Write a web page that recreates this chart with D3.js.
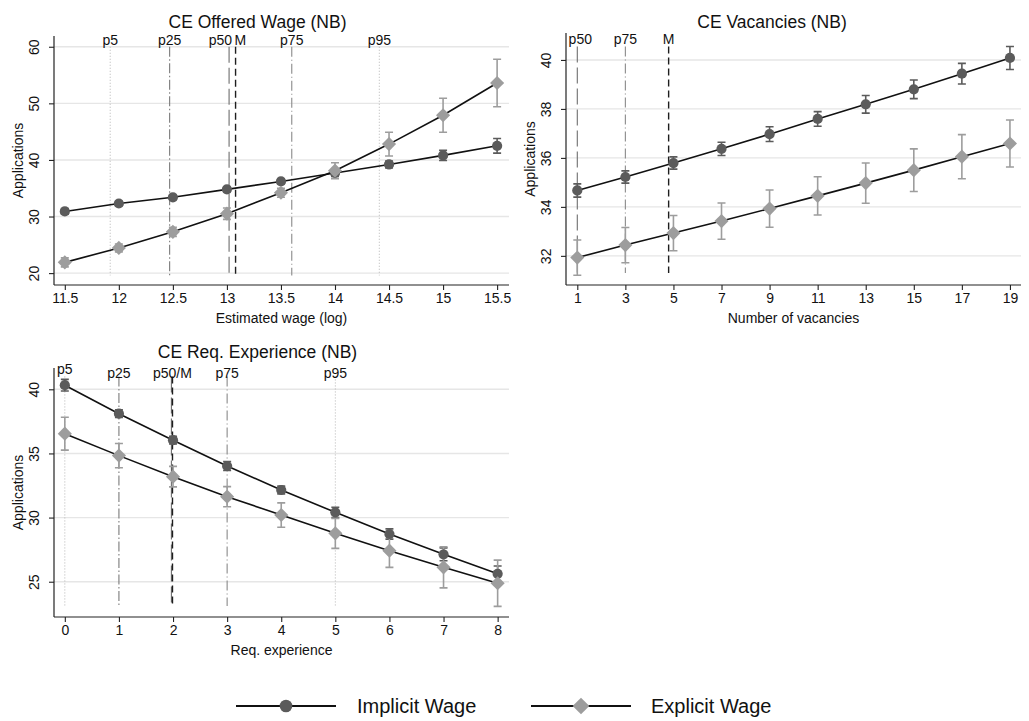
<!DOCTYPE html>
<html>
<head>
<meta charset="utf-8">
<script src="https://cdn.jsdelivr.net/npm/d3@7"></script>
<style>
  html, body { margin: 0; padding: 0; background: #fff; }
  svg { display: block; font-family: "Liberation Sans", Arial, sans-serif; }
</style>
</head>
<body>
<svg id="chart" width="1029" height="721"></svg>
<script>
// ---- Offered wage panel ----
const wageX = [11.5, 12, 12.5, 13, 13.5, 14, 14.5, 15, 15.5];
const wageImplicit = [30.9, 32.3, 33.4, 34.8, 36.2, 37.7, 39.2, 40.8, 42.5];
const wageImplicitCI = [0.5, 0.4, 0.4, 0.4, 0.4, 0.6, 0.6, 0.9, 1.3];
const wageExplicit = [21.9, 24.45, 27.3, 30.5, 34.2, 38.1, 42.8, 47.9, 53.6];
const wageExplicitCI = [0.8, 0.7, 0.8, 1.0, 0.8, 1.4, 2.1, 3.0, 4.2];
const wageYTicks = [20, 30, 40, 50, 60];
const wageRefNames = ["p5", "p25", "p50", "M", "p75", "p95"];
const wageRefValues = [11.92, 12.47, 13.02, 13.08, 13.6, 14.41];
const wageRefLabels = ["p5", "p25", "p50", "M", "p75", "p95"];

// ---- Vacancies panel ----
const vacX = [1, 3, 5, 7, 9, 11, 13, 15, 17, 19];
const vacImplicit = [34.67, 35.22, 35.79, 36.37, 36.97, 37.59, 38.19, 38.8, 39.44, 40.08];
const vacImplicitCI = [0.27, 0.25, 0.25, 0.27, 0.3, 0.3, 0.36, 0.38, 0.42, 0.47];
const vacExplicit = [31.93, 32.44, 32.93, 33.42, 33.93, 34.45, 34.97, 35.5, 36.05, 36.59];
const vacExplicitCI = [0.72, 0.72, 0.72, 0.74, 0.76, 0.78, 0.82, 0.87, 0.9, 0.96];
const vacYTicks = [32, 34, 36, 38, 40];
const vacRefNames = ["p50", "p75", "M"];
const vacRefValues = [1, 3, 4.8];
const vacRefLabels = ["p50", "p75", "M"];

// ---- Required experience panel ----
const expX = [0, 1, 2, 3, 4, 5, 6, 7, 8];
const expImplicit = [40.32, 38.1, 36.03, 34.02, 32.15, 30.41, 28.72, 27.14, 25.62];
const expImplicitCI = [0.45, 0.3, 0.3, 0.35, 0.3, 0.4, 0.4, 0.5, 0.6];
const expExplicit = [36.54, 34.83, 33.19, 31.63, 30.2, 28.77, 27.42, 26.12, 24.88];
const expExplicitCI = [1.28, 0.95, 0.8, 0.78, 0.95, 1.17, 1.3, 1.6, 1.8];
const expYTicks = [25, 30, 35, 40];
const expRefNames = ["p5", "p25", "p50", "M", "p75", "p95"];
const expRefValues = [0, 1, 1.97, 1.99, 3, 5];
const expRefLabels = ["p5", "p25", "p50/M", "", "p75", "p95"];

const seriesNames = ["Implicit Wage", "Explicit Wage"];

// ---- styling ----
const darkGrey = "#5b5b5b";
const lightGrey = "#9d9d9d";
const refStyle = {
  p5:  { stroke: "#b4b4b4", dash: "1,2",        width: 1 },
  p95: { stroke: "#b4b4b4", dash: "1,2",        width: 1 },
  p25: { stroke: "#7a7a7a", dash: "10,2.5,1.5,2.5", width: 1.1 },
  p75: { stroke: "#8a8a8a", dash: "10,3,1,3",   width: 1.1 },
  p50: { stroke: "#6e6e6e", dash: "16,5",       width: 1.1 },
  M:   { stroke: "#1e1e1e", dash: "7,4",        width: 1.4 }
};

// marker shapes: filled circle and a square turned 45 degrees
const markerPath = (shape, size) => shape === "circle"
  ? d3.symbol().type(d3.symbolCircle).size(size)()
  : d3.symbol().type(d3.symbolSquare).size(size)();
const markerRotate = shape => shape === "circle" ? "" : " rotate(45)";

const svg = d3.select("#chart");

const panels = [
  {
    title: "CE Offered Wage (NB)", xTitle: "Estimated wage (log)",
    box: { left: 0, width: 515 },
    xDomain: [11.4, 15.61], xRange: [54, 509],
    yDomain: [17.9, 61.9], yRange: [285, 36],
    titleY: 28, labelY: 45, refSpan: [19.6, 60],
    x: wageX, imp: wageImplicit, impCI: wageImplicitCI, exp: wageExplicit, expCI: wageExplicitCI,
    xTicks: wageX, xFmt: d => String(d), yTicks: wageYTicks,
    refs: wageRefNames.map((n, i) => ({ name: n, value: wageRefValues[i], label: wageRefLabels[i],
      anchor: n === "p50" ? "end" : (n === "M" ? "start" : "middle"),
      dx: n === "p50" ? 3 : (n === "M" ? -1 : 0), dy: 0 }))
  },
  {
    title: "CE Vacancies (NB)", xTitle: "Number of vacancies",
    box: { left: 515, width: 514 },
    xDomain: [0.53, 19.46], xRange: [566, 1021],
    yDomain: [30.81, 41.1], yRange: [285, 33],
    titleY: 28, labelY: 44, refSpan: [31.3, 40.55],
    x: vacX, imp: vacImplicit, impCI: vacImplicitCI, exp: vacExplicit, expCI: vacExplicitCI,
    xTicks: vacX, xFmt: d => String(d), yTicks: vacYTicks,
    refs: vacRefNames.map((n, i) => ({ name: n, value: vacRefValues[i], label: vacRefLabels[i],
      anchor: "middle", dx: n === "p50" ? 3 : 0, dy: 0 }))
  },
  {
    title: "CE Req. Experience (NB)", xTitle: "Req. experience",
    box: { left: 0, width: 515 },
    xDomain: [-0.2, 8.21], xRange: [54, 509],
    yDomain: [22.25, 41.66], yRange: [617, 368],
    titleY: 358, labelY: 378, refSpan: [23.1, 41.0],
    x: expX, imp: expImplicit, impCI: expImplicitCI, exp: expExplicit, expCI: expExplicitCI,
    xTicks: expX, xFmt: d => String(d), yTicks: expYTicks,
    refs: expRefNames.map((n, i) => ({ name: n, value: expRefValues[i], label: expRefLabels[i],
      anchor: "middle", dx: n === "p50" ? 1 : 0, dy: n === "p5" ? -4 : 0 }))
  }
];

function drawPanel(p) {
  const g = svg.append("g");
  const x = d3.scaleLinear().domain(p.xDomain).range(p.xRange);
  const y = d3.scaleLinear().domain(p.yDomain).range(p.yRange);
  const [x0, x1] = p.xRange;
  const [yb, yt] = p.yRange;

  // panel title
  g.append("text")
    .attr("x", p.box.left + p.box.width / 2).attr("y", p.titleY)
    .attr("text-anchor", "middle").attr("font-size", 17.5).attr("fill", "#111")
    .text(p.title);

  // horizontal grid
  g.append("g").selectAll("line").data(p.yTicks).join("line")
    .attr("x1", x0).attr("x2", x1)
    .attr("y1", d => y(d)).attr("y2", d => y(d))
    .attr("stroke", "#e6e6e6").attr("stroke-width", 1.4);

  // reference lines for percentiles and mean
  const refG = g.append("g");
  refG.selectAll("line").data(p.refs).join("line")
    .attr("x1", d => x(d.value)).attr("x2", d => x(d.value))
    .attr("y1", y(p.refSpan[1])).attr("y2", y(p.refSpan[0]))
    .attr("stroke", d => refStyle[d.name].stroke)
    .attr("stroke-width", d => refStyle[d.name].width)
    .attr("stroke-dasharray", d => refStyle[d.name].dash);
  refG.selectAll("text").data(p.refs.filter(d => d.label)).join("text")
    .attr("x", d => x(d.value) + d.dx).attr("y", p.labelY)
    .attr("dy", d => d.dy)
    .attr("text-anchor", d => d.anchor)
    .attr("font-size", 14).attr("fill", "#111")
    .text(d => d.label);

  // y axis
  const yAxis = d3.axisLeft(y).tickValues(p.yTicks).tickSize(5).tickSizeOuter(0).tickPadding(4);
  const ya = g.append("g").attr("transform", `translate(${x0},0)`).call(yAxis);
  ya.select(".domain").attr("d", `M0,${yt}V${yb}`).attr("stroke", "#222").attr("stroke-width", 1.2);
  ya.selectAll(".tick line").attr("stroke", "#222").attr("stroke-width", 1.1);
  ya.selectAll(".tick text")
    .attr("font-size", 14).attr("fill", "#111").attr("font-family", null)
    .attr("text-anchor", "middle").attr("dy", 0).attr("x", 0)
    .attr("transform", "translate(-15,0) rotate(-90)");

  g.append("text")
    .attr("transform", `translate(${x0 - 31},${(yb + yt) / 2}) rotate(-90)`)
    .attr("text-anchor", "middle").attr("font-size", 14).attr("fill", "#111")
    .text("Applications");

  // x axis
  const xAxis = d3.axisBottom(x).tickValues(p.xTicks).tickFormat(p.xFmt).tickSize(5).tickSizeOuter(0).tickPadding(3);
  const xa = g.append("g").attr("transform", `translate(0,${yb})`).call(xAxis);
  xa.select(".domain").attr("d", `M${x0},0H${x1}`).attr("stroke", "#222").attr("stroke-width", 1.2);
  xa.selectAll(".tick line").attr("stroke", "#222").attr("stroke-width", 1.1);
  xa.selectAll(".tick text").attr("font-size", 14).attr("fill", "#111").attr("font-family", null);

  g.append("text")
    .attr("x", (x0 + x1) / 2).attr("y", yb + 38)
    .attr("text-anchor", "middle").attr("font-size", 14).attr("fill", "#111")
    .text(p.xTitle);

  // series
  const series = [
    { vals: p.imp, ci: p.impCI, color: darkGrey, shape: "circle", size: 82 },
    { vals: p.exp, ci: p.expCI, color: lightGrey, shape: "diamond", size: 100 }
  ];

  // confidence intervals
  series.forEach(s => {
    const rows = p.x.map((xv, i) => ({ x: xv, lo: s.vals[i] - s.ci[i], hi: s.vals[i] + s.ci[i] }));
    const cg = g.append("g").attr("stroke", s.color).attr("stroke-width", 1.6).attr("fill", "none");
    cg.selectAll("path").data(rows).join("path")
      .attr("d", d => {
        const cx = x(d.x), a = y(d.hi), b = y(d.lo);
        return `M${cx},${a}V${b}M${cx - 4},${a}H${cx + 4}M${cx - 4},${b}H${cx + 4}`;
      });
  });

  // connecting lines and markers
  const line = d3.line().x(d => x(d[0])).y(d => y(d[1]));
  series.forEach(s => {
    const pts = p.x.map((xv, i) => [xv, s.vals[i]]);
    g.append("path").datum(pts).attr("d", line)
      .attr("fill", "none").attr("stroke", "#111").attr("stroke-width", 1.6);
    g.append("g").selectAll("path").data(pts).join("path")
      .attr("transform", d => `translate(${x(d[0])},${y(d[1])})${markerRotate(s.shape)}`)
      .attr("d", markerPath(s.shape, s.size)).attr("fill", s.color);
  });
}

panels.forEach(drawPanel);

// ---- legend ----
const legendY = 706;
const legendItems = [
  { name: seriesNames[0], color: darkGrey, shape: "circle", size: 125, lineX: [236, 336], textX: 357 },
  { name: seriesNames[1], color: lightGrey, shape: "diamond", size: 140, lineX: [531, 631], textX: 651 }
];
const lg = svg.append("g");
legendItems.forEach(it => {
  lg.append("line")
    .attr("x1", it.lineX[0]).attr("x2", it.lineX[1])
    .attr("y1", legendY).attr("y2", legendY)
    .attr("stroke", "#111").attr("stroke-width", 1.8);
  lg.append("path")
    .attr("transform", `translate(${(it.lineX[0] + it.lineX[1]) / 2},${legendY})${markerRotate(it.shape)}`)
    .attr("d", markerPath(it.shape, it.size)).attr("fill", it.color);
  lg.append("text")
    .attr("x", it.textX).attr("y", legendY + 7)
    .attr("font-size", 20).attr("fill", "#111")
    .text(it.name);
});
</script>
</body>
</html>
